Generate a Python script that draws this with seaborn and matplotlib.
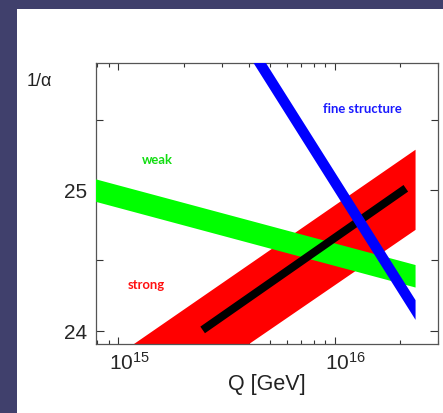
import matplotlib
matplotlib.use("Agg")
import matplotlib.pyplot as plt
import matplotlib.transforms as mtransforms
from matplotlib.patches import Rectangle
from matplotlib.ticker import FixedLocator, NullFormatter, LogLocator
import pandas as pd
import seaborn as sns

# Band end points: energy Q [GeV] and the lower / upper edge of 1/alpha
weak_q = [7.8e14, 2.35e16]
weak_lo = [24.92, 24.31]
weak_hi = [25.08, 24.47]

strong_q = [7.8e14, 2.35e16]
strong_lo = [23.16, 24.72]
strong_hi = [23.72, 25.29]

fine_q = [3.0e15, 2.35e16]
fine_lo = [26.26, 24.08]
fine_hi = [26.40, 24.22]

# Central line of the strong band
central_q = [2.45e15, 2.13e16]
central_val = [24.005, 25.012]

# Band labels
label_names = ["weak", "strong", "fine structure"]
label_q = [1.51e15, 1.35e15, 1.34e16]
label_val = [25.22, 24.33, 25.58]
label_colors = ["#11dd11", "#ff1010", "#1a1aff"]

y_ticks = [24, 25]
y_minor = [24.5, 25.5]
x_ticks = [1e15, 1e16]

sns.set_theme(style="ticks")
plt.rcParams["font.family"] = ["Liberation Sans", "DejaVu Sans"]

W, H = 443, 414
fig = plt.figure(figsize=(W / 100, H / 100), dpi=100)
fig.patch.set_facecolor("#40406c")
fig.patches.append(Rectangle((17 / W, 0), 1 - 17 / W, 1 - 10 / H,
                             transform=fig.transFigure, facecolor="white",
                             edgecolor="none", zorder=-1))

ax = fig.add_axes([96.3 / W, 1 - 345 / H, (438 - 96.3) / W, (345 - 64) / H])
ax.set_facecolor("white")

ax.fill_between(strong_q, strong_lo, strong_hi, color="#ff0000", lw=0, zorder=2)
ax.fill_between(weak_q, weak_lo, weak_hi, color="#00ff00", lw=0, zorder=3)

central = pd.DataFrame({"Q": central_q, "inv_alpha": central_val})
sns.lineplot(data=central, x="Q", y="inv_alpha", ax=ax, color="black",
             lw=5.8, solid_capstyle="butt", zorder=4)

ax.fill_between(fine_q, fine_lo, fine_hi, color="#0000ff", lw=0, zorder=5)

for name, q, v, c in zip(label_names, label_q, label_val, label_colors):
    ax.text(q, v, name, color=c, fontsize=9.4, fontweight="bold",
            family=["Lato", "DejaVu Sans"], ha="center", va="center", zorder=6)

ax.set_xscale("log")
ax.set_xlim(7.9e14, 3.0e16)
ax.set_ylim(23.905, 25.903)

ax.xaxis.set_major_locator(FixedLocator(x_ticks))
ax.xaxis.set_minor_locator(LogLocator(base=10, subs=range(2, 10), numticks=20))
ax.xaxis.set_minor_formatter(NullFormatter())
ax.set_xticklabels([r"$\mathdefault{10^{15}}$", r"$\mathdefault{10^{16}}$"])
ax.yaxis.set_major_locator(FixedLocator(y_ticks))
ax.yaxis.set_minor_locator(FixedLocator(y_minor))
ax.set_yticklabels([str(t) for t in y_ticks])

ax.tick_params(which="both", direction="in", top=True, right=True,
               color="#333333", width=0.8)
ax.tick_params(axis="x", which="major", length=5, labelsize=15, pad=5)
ax.tick_params(axis="x", which="minor", length=2.6)
ax.tick_params(axis="y", which="major", length=5.5, labelsize=15, pad=6.5)
ax.tick_params(axis="y", which="minor", length=5)

shift = mtransforms.ScaledTranslation(11 / 100, 0, fig.dpi_scale_trans)
for lab in ax.get_xticklabels():
    lab.set_transform(lab.get_transform() + shift)

for sp in ax.spines.values():
    sp.set_color("#555555")
    sp.set_linewidth(0.9)

ax.set_xlabel("Q [GeV]", fontsize=15.5, color="#222222", labelpad=0)
ax.set_ylabel("")
fig.text(27 / W, 1 - 82 / H, "1/α", fontsize=13, color="#222222",
         ha="left", va="center")

fig.savefig("out.png", dpi=100, facecolor=fig.get_facecolor())
